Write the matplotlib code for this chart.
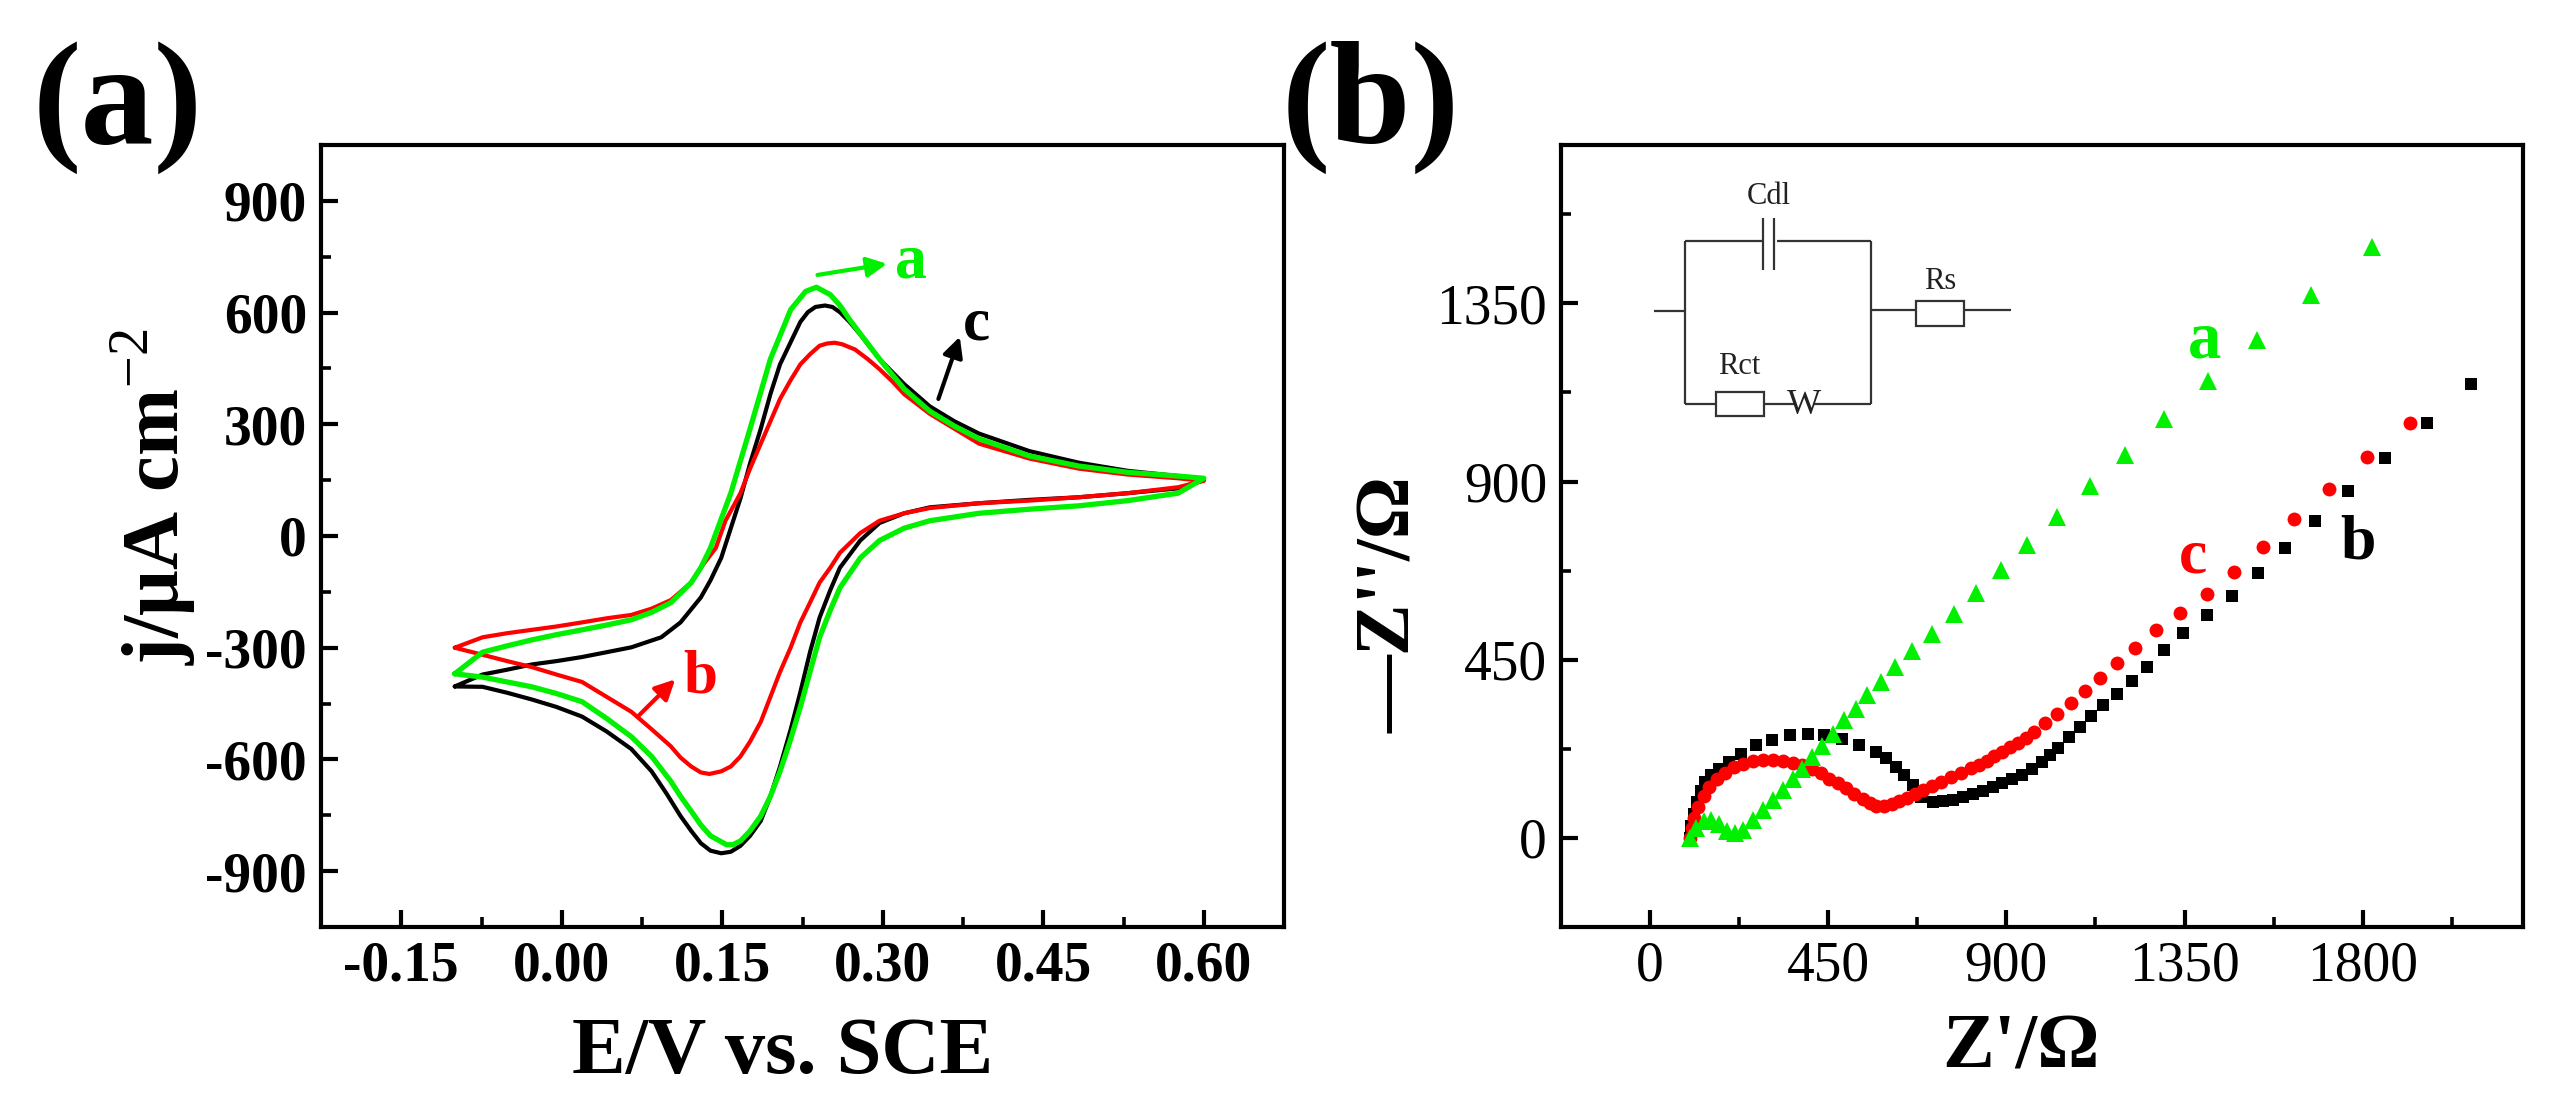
import numpy as np
import matplotlib
matplotlib.use("Agg")
import matplotlib.pyplot as plt
from matplotlib.ticker import MultipleLocator

plt.rcParams['font.family'] = ['Liberation Serif', 'DejaVu Serif']
plt.rcParams['mathtext.fontset'] = 'custom'
plt.rcParams['mathtext.rm'] = 'Liberation Serif'
plt.rcParams['mathtext.bf'] = 'Liberation Serif:bold'
plt.rcParams['axes.unicode_minus'] = False

GREEN = '#00f000'
RED = '#ff0000'
BLACK = '#000000'

# ---- (a) CV curves: forward (upper) branch then reverse (lower) branch
# curve a (green)
E_a_up = [-0.100, -0.074, -0.051, -0.028, -0.005, 0.019, 0.042, 0.065, 0.084, 0.102, 0.121, 0.130,
          0.139, 0.158, 0.176, 0.195, 0.214, 0.228, 0.238, 0.251, 0.260, 0.269, 0.283, 0.297,
          0.320, 0.344, 0.367, 0.390, 0.437, 0.483, 0.529, 0.576, 0.600]
j_a_up = [-370, -312, -295, -279, -265, -252, -239, -225, -205, -179, -125, -85,
          -32, 115, 288, 475, 608, 657, 668, 648, 619, 581, 528, 475,
          395, 335, 295, 261, 215, 188, 171, 161, 155]
E_a_dn = [0.576, 0.529, 0.483, 0.437, 0.390, 0.344, 0.320, 0.297, 0.279, 0.260, 0.251, 0.241,
          0.232, 0.223, 0.214, 0.204, 0.195, 0.186, 0.176, 0.167, 0.160, 0.154, 0.149, 0.139,
          0.130, 0.121, 0.111, 0.102, 0.084, 0.065, 0.042, 0.019, -0.005, -0.028, -0.051,
          -0.074, -0.100]
j_a_dn = [115, 95, 81, 72, 61, 41, 21, -12, -59, -139, -199, -272,
          -365, -459, -545, -632, -699, -752, -792, -819, -829, -829, -821, -805,
          -776, -739, -699, -659, -592, -539, -490, -445, -423, -405, -392,
          -379, -370]

# curve b (red)
E_b_up = [-0.100, -0.074, -0.051, -0.028, -0.005, 0.019, 0.042, 0.065, 0.084, 0.102, 0.121, 0.130,
          0.144, 0.153, 0.167, 0.176, 0.186, 0.195, 0.204, 0.214, 0.223, 0.232, 0.241, 0.248,
          0.255, 0.262, 0.274, 0.286, 0.297, 0.309, 0.320, 0.344, 0.367, 0.390, 0.437, 0.483,
          0.529, 0.576, 0.600]
j_b_up = [-300, -272, -261, -252, -243, -232, -221, -212, -195, -172, -125, -85,
          -32, 41, 115, 181, 248, 308, 368, 419, 461, 488, 511, 517,
          519, 515, 501, 475, 448, 415, 381, 328, 288, 248, 208, 181,
          165, 155, 148]
E_b_dn = [0.576, 0.529, 0.483, 0.437, 0.390, 0.344, 0.320, 0.297, 0.279, 0.260, 0.251, 0.241,
          0.232, 0.223, 0.214, 0.204, 0.195, 0.186, 0.176, 0.167, 0.158, 0.149, 0.138, 0.130,
          0.121, 0.111, 0.102, 0.084, 0.065, 0.042, 0.019, -0.005, -0.028, -0.051, -0.074, -0.100]
j_b_dn = [131, 115, 104, 95, 88, 75, 61, 41, 8, -45, -85, -125,
          -179, -232, -299, -365, -432, -499, -552, -592, -619, -632, -639, -635,
          -619, -595, -565, -519, -472, -432, -392, -372, -352, -336, -319, -300]

# curve c (black)
E_c_up = [-0.100, -0.074, -0.051, -0.028, -0.005, 0.019, 0.042, 0.065, 0.093, 0.111, 0.130, 0.139,
          0.149, 0.158, 0.167, 0.176, 0.186, 0.195, 0.204, 0.214, 0.223, 0.230, 0.237, 0.246,
          0.253, 0.260, 0.269, 0.279, 0.288, 0.297, 0.320, 0.344, 0.367, 0.390, 0.437, 0.483,
          0.529, 0.576, 0.600]
j_c_up = [-404, -372, -359, -345, -336, -325, -312, -299, -272, -232, -165, -119,
          -59, 21, 101, 195, 288, 381, 461, 521, 575, 601, 615, 619,
          615, 601, 575, 541, 508, 475, 408, 348, 308, 275, 228, 197,
          175, 161, 150]
E_c_dn = [0.576, 0.529, 0.483, 0.437, 0.390, 0.344, 0.320, 0.297, 0.279, 0.260, 0.251, 0.241,
          0.232, 0.223, 0.214, 0.204, 0.195, 0.186, 0.176, 0.167, 0.158, 0.149, 0.139, 0.130,
          0.121, 0.111, 0.098, 0.084, 0.065, 0.042, 0.019, -0.005, -0.028, -0.051, -0.074, -0.100]
j_c_dn = [128, 115, 104, 97, 88, 77, 61, 35, -12, -85, -145, -219,
          -312, -419, -519, -619, -699, -765, -805, -832, -848, -852, -845, -825,
          -792, -752, -692, -632, -572, -525, -485, -459, -439, -421, -405, -404]

E_ticks = [-0.15, 0.00, 0.15, 0.30, 0.45, 0.60]
j_ticks = [-900, -600, -300, 0, 300, 600, 900]

# ---- (b) Nyquist plots
# a (green triangles)
Zr_a = [100, 115, 135, 155, 175, 195, 215, 235, 260, 285, 310, 335, 360, 385, 410, 435, 462, 490,
        520, 549, 583, 619, 662, 712, 767, 823, 886, 953, 1027, 1110, 1199, 1299, 1409, 1532, 1669, 1824]
Zi_a = [0, 25, 42, 45, 35, 18, 12, 20, 45, 70, 95, 120, 148, 175, 205, 232, 262, 297,
        326, 360, 395, 431, 471, 516, 566, 619, 676, 741, 810, 888, 966, 1059, 1154, 1258, 1372, 1492]
# b (black squares)
Zr_b = [100, 104, 110, 118, 128, 140, 155, 174, 200, 229, 267, 309, 353, 398, 440, 486, 528, 571,
        596, 621, 642, 663, 684, 714, 740, 764, 790, 815, 840, 865, 890, 915, 940, 965, 990, 1010,
        1030, 1058, 1085, 1113, 1145, 1180, 1217, 1256, 1299, 1347, 1407, 1470, 1535, 1605, 1679,
        1764, 1857, 1962, 2074]
Zi_b = [0, 30, 60, 90, 118, 142, 160, 175, 192, 213, 234, 248, 259, 262, 259, 251, 234, 217,
        201, 180, 159, 133, 104, 91, 93, 96, 103, 110, 118, 128, 138, 148, 160, 175, 192, 210,
        228, 255, 281, 308, 335, 364, 396, 432, 474, 517, 564, 611, 668, 731, 800,
        875, 960, 1049, 1146]
# c (red circles)
Zr_c = [100, 105, 112, 122, 135, 150, 168, 190, 212, 235, 260, 285, 310, 335, 360, 385, 410, 432,
        453, 475, 495, 515, 537, 555, 571, 590, 610, 630, 650, 670, 690, 712, 735, 760, 785, 810,
        830, 850, 870, 890, 910, 930, 950, 970, 998, 1028, 1062, 1098, 1137, 1180, 1225, 1278,
        1338, 1406, 1475, 1547, 1627, 1714, 1811, 1919]
Zi_c = [0, 25, 50, 78, 105, 128, 148, 165, 178, 187, 194, 197, 197, 195, 190, 183, 174, 163,
        150, 138, 125, 112, 98, 88, 80, 80, 85, 92, 100, 110, 120, 130, 142, 153, 164, 176,
        185, 195, 206, 217, 229, 240, 253, 268, 290, 314, 340, 372, 405, 441, 480, 524,
        568, 616, 671, 735, 805, 880, 961, 1049]

Z_xticks = [0, 450, 900, 1350, 1800]
Z_yticks = [0, 450, 900, 1350]

W, H = 2563, 1100
fig = plt.figure(figsize=(W / 100, H / 100), dpi=100)


def style_axes(ax):
    for s in ax.spines.values():
        s.set_linewidth(3.0)
    ax.tick_params(which='major', direction='in', length=12, width=3.0,
                   top=False, right=False, labelsize=40, pad=10)
    ax.tick_params(which='minor', direction='in', length=7, width=2.6,
                   top=False, right=False)


# ---------------- panel (a)
ax1 = fig.add_axes([321 / W, 1 - 927 / H, 963 / W, 782 / H])
line_kw = dict(solid_joinstyle='round', solid_capstyle='round')
ax1.plot(E_c_up + E_c_dn, j_c_up + j_c_dn, color=BLACK, lw=3.0, **line_kw)
ax1.plot(E_b_up + E_b_dn, j_b_up + j_b_dn, color=RED, lw=3.0, **line_kw)
ax1.plot(E_a_up + E_a_dn, j_a_up + j_a_dn, color=GREEN, lw=3.8, **line_kw)
ax1.set_xlim(-0.225, 0.675)
ax1.set_ylim(-1050, 1050)
ax1.set_xticks(E_ticks)
ax1.set_xticklabels(['%.2f' % e for e in E_ticks])
ax1.set_yticks(j_ticks)
ax1.set_yticklabels([str(v) for v in j_ticks])
ax1.xaxis.set_minor_locator(MultipleLocator(0.075))
ax1.yaxis.set_minor_locator(MultipleLocator(150))
style_axes(ax1)
plt.setp(ax1.get_xticklabels() + ax1.get_yticklabels(), fontweight='bold')

ax1.set_xlabel('E/V vs. SCE', fontsize=58, fontweight='bold')
ax1.xaxis.set_label_coords(0.479, -0.115)
ax1.set_ylabel(r'j/μA cm$^{-2}$', fontsize=58, fontweight='bold', va='center')
ax1.yaxis.set_label_coords(-0.174, 0.55)

arrow_kw = dict(arrowstyle='-|>', lw=3.0, mutation_scale=30, shrinkA=0, shrinkB=0)
ax1.annotate('', xy=(0.304, 731), xytext=(0.239, 701),
             arrowprops=dict(color=GREEN, **arrow_kw))
ax1.text(0.326, 695, 'a', color=GREEN, fontsize=46, fontweight='bold', ha='center', va='baseline')
ax1.annotate('', xy=(0.372, 535), xytext=(0.352, 368),
             arrowprops=dict(color=BLACK, **arrow_kw))
ax1.text(0.388, 528, 'c', color=BLACK, fontsize=44, fontweight='bold', ha='center', va='baseline')
ax1.annotate('', xy=(0.106, -385), xytext=(0.071, -485),
             arrowprops=dict(color=RED, **arrow_kw))
ax1.text(0.129, -419, 'b', color=RED, fontsize=44, fontweight='bold', ha='center', va='baseline')

# ---------------- panel (b)
ax2 = fig.add_axes([1561 / W, 1 - 927 / H, 962 / W, 782 / H])
ax2.plot(Zr_b, Zi_b, 's', color=BLACK, ms=9, mew=0)
ax2.plot(Zr_c, Zi_c, 'o', color=RED, ms=10, mew=0)
ax2.plot(Zr_a, Zi_a, '^', color=GREEN, ms=13, mew=0)
ax2.set_xlim(-225, 2205)
ax2.set_ylim(-225, 1750)
ax2.set_xticks(Z_xticks)
ax2.set_yticks(Z_yticks)
ax2.xaxis.set_minor_locator(MultipleLocator(225))
ax2.yaxis.set_minor_locator(MultipleLocator(225))
style_axes(ax2)

ax2.set_xlabel("Z'/Ω", fontsize=56, fontweight='bold')
ax2.xaxis.set_label_coords(0.478, -0.11)
ax2.set_ylabel("—Z''/Ω", fontsize=56, fontweight='bold', va='center')
ax2.yaxis.set_label_coords(-0.176, 0.413)

ax2.text(1400, 1214, 'a', color=GREEN, fontsize=48, fontweight='bold', ha='center', va='baseline')
ax2.text(1372, 671, 'c', color=RED, fontsize=46, fontweight='bold', ha='center', va='baseline')
ax2.text(1789, 706, 'b', color=BLACK, fontsize=46, fontweight='bold', ha='center', va='baseline')

# equivalent circuit inset (schematic, local units)
axc = fig.add_axes([1640 / W, 1 - 430 / H, 380 / W, 250 / H])
axc.set_xlim(0, 380)
axc.set_ylim(250, 0)
axc.axis('off')
wire = dict(color='#333333', lw=1.6, solid_capstyle='butt')
axc.plot([13.6, 45], [131, 131], **wire)
axc.plot([45, 45], [61.4, 224], **wire)
axc.plot([45, 122.5], [61.4, 61.4], **wire)
axc.plot([136.8, 230.7], [61.4, 61.4], **wire)
axc.plot([123.2, 123.2], [38, 90], **wire)
axc.plot([134, 134], [38, 90], **wire)
axc.plot([230.7, 230.7], [61.4, 224], **wire)
axc.plot([45, 76], [224, 224], **wire)
axc.add_patch(plt.Rectangle((76, 212), 48.3, 24, fill=False, ec='#333333', lw=1.6))
axc.plot([124.3, 156], [224, 224], **wire)
axc.plot([173, 230.7], [224, 224], **wire)
axc.plot([230.7, 276], [130, 130], **wire)
axc.add_patch(plt.Rectangle((276, 121), 48, 25, fill=False, ec='#333333', lw=1.6))
axc.plot([324, 370.7], [130, 130], **wire)
axc.text(128.5, 17, 'Cdl', fontsize=22, ha='center', va='center', color='#222222')
axc.text(99, 186, 'Rct', fontsize=22, ha='center', va='center', color='#222222')
axc.text(164, 226, 'W', fontsize=26, ha='center', va='center', color='#222222')
axc.text(300, 102, 'Rs', fontsize=22, ha='center', va='center', color='#222222')

# panel letters
fig.text(33 / W, 1 - 143 / H, '(a)', fontsize=105, fontweight='bold', ha='left', va='baseline')
fig.text(1282 / W, 1 - 143 / H, '(b)', fontsize=105, fontweight='bold', ha='left', va='baseline')

fig.savefig('out.png', dpi=100)
